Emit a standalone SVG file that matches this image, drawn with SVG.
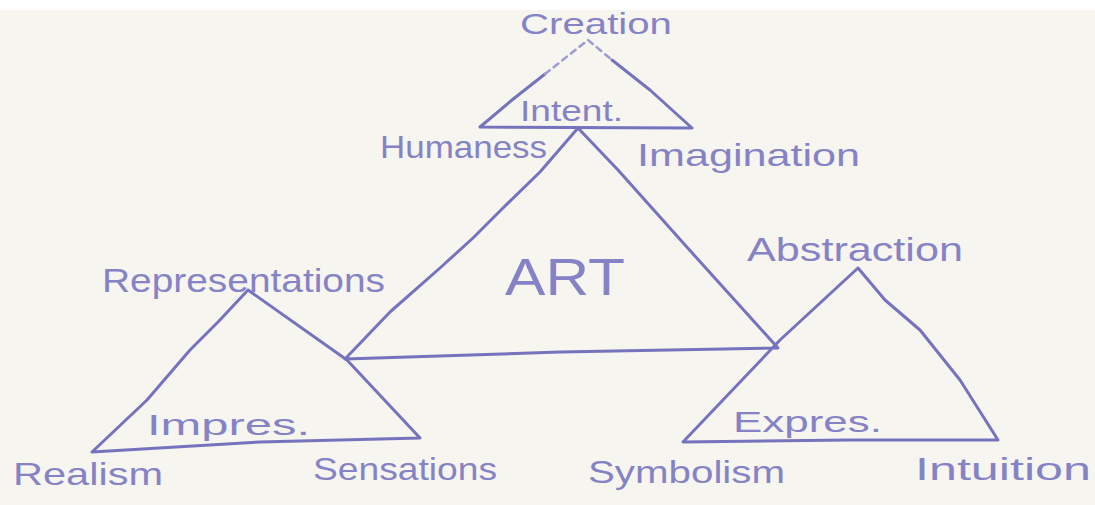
<svg xmlns="http://www.w3.org/2000/svg" width="1095" height="505" viewBox="0 0 1095 505">
  <style>
    .edge { fill: none; stroke: #7573bd; stroke-width: 3; stroke-linecap: round; stroke-linejoin: round; }
    .faint { fill: none; stroke: #9d9bd2; stroke-width: 2.5; stroke-linecap: round; stroke-dasharray: 6 5; }
    .lbl { font-family: "Liberation Sans", "DejaVu Sans", sans-serif; fill: #8583c5; }
  </style>

  <!-- paper -->
  <rect x="0" y="0" width="1095" height="505" fill="#f7f5ef"/>
  <rect x="0" y="0" width="1095" height="10" fill="#ffffff"/>

  <!-- Intent triangle (top) -->
  <g id="intent">
    <path class="edge" d="M480,127 L692,128 M480,127 L512,100 L545,74 M612,60 L650,90 L692,128"/>
    <path class="faint" d="M545,74 L588,40 L612,60"/>
    <text class="lbl" x="520" y="121" font-size="30" textLength="103" lengthAdjust="spacingAndGlyphs">Intent.</text>
  </g>

  <!-- ART triangle (centre) -->
  <g id="art">
    <path class="edge" d="M578,128 L540,172 L503,208 L473,238 L440,268 L390,312 L345,359 L560,352 L778,348 L694,255 L618,170 L578,128"/>
    <text class="lbl" x="505" y="295" font-size="52" textLength="120" lengthAdjust="spacingAndGlyphs">ART</text>
  </g>

  <!-- Impres. triangle (left) -->
  <g id="impres">
    <path class="edge" d="M248,290 L218,322 L190,350 L147,400 L92,452 L260,442 L420,438 L347,360 L248,290"/>
    <text class="lbl" x="147" y="435" font-size="30" textLength="163" lengthAdjust="spacingAndGlyphs">Impres.</text>
  </g>

  <!-- Expres. triangle (right) -->
  <g id="expres">
    <path class="edge" d="M858,268 L780,340 L683,442 L850,440 L998,440 L960,380 L920,330 L885,300 L858,268"/>
    <text class="lbl" x="733" y="432" font-size="30" textLength="149" lengthAdjust="spacingAndGlyphs">Expres.</text>
  </g>

  <!-- corner labels -->
  <g id="creation">
    <text class="lbl" x="520" y="34" font-size="30" textLength="152" lengthAdjust="spacingAndGlyphs">Creation</text>
  </g>
  <g id="humaness">
    <text class="lbl" x="380" y="158" font-size="32" textLength="167" lengthAdjust="spacingAndGlyphs">Humaness</text>
  </g>
  <g id="imagination">
    <text class="lbl" x="637" y="166" font-size="32" textLength="223" lengthAdjust="spacingAndGlyphs">Imagination</text>
  </g>
  <g id="representations">
    <text class="lbl" x="102" y="292" font-size="34" textLength="283" lengthAdjust="spacingAndGlyphs">Representations</text>
  </g>
  <g id="abstraction">
    <text class="lbl" x="747" y="261" font-size="34" textLength="216" lengthAdjust="spacingAndGlyphs">Abstraction</text>
  </g>
  <g id="realism">
    <text class="lbl" x="13" y="485" font-size="32" textLength="150" lengthAdjust="spacingAndGlyphs">Realism</text>
  </g>
  <g id="sensations">
    <text class="lbl" x="313" y="480" font-size="32" textLength="184" lengthAdjust="spacingAndGlyphs">Sensations</text>
  </g>
  <g id="symbolism">
    <text class="lbl" x="588" y="483" font-size="32" textLength="197" lengthAdjust="spacingAndGlyphs">Symbolism</text>
  </g>
  <g id="intuition">
    <text class="lbl" x="915" y="480" font-size="32" textLength="176" lengthAdjust="spacingAndGlyphs">Intuition</text>
  </g>
</svg>
